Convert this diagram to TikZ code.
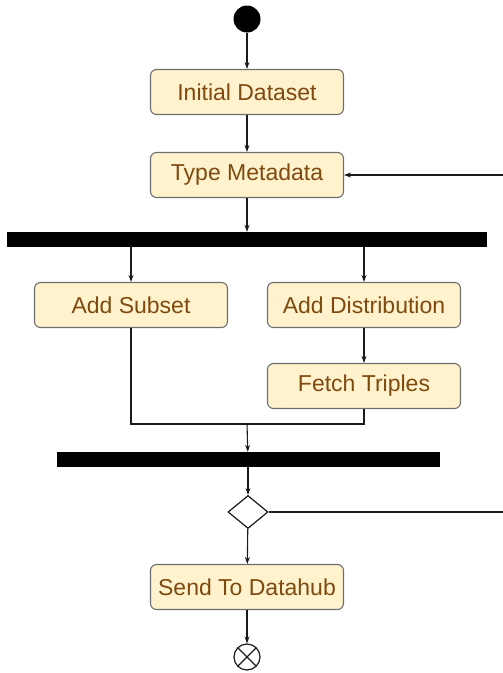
\documentclass[tikz,border=0pt]{standalone}
\usepackage{fontspec}
\setmainfont{Liberation Sans}
\usepackage{xcolor}
\definecolor{cFill}{HTML}{FFF2CC}
\definecolor{cEdge}{HTML}{6E6E6E}
\definecolor{cText}{HTML}{7F4A10}
\definecolor{cLine}{HTML}{1A1A1A}
\usetikzlibrary{arrows.meta,shapes.geometric}
\tikzset{
  node-act/.style={draw=cEdge,line width=1.1pt,fill=cFill,rounded corners=6pt,
    minimum width=193pt,minimum height=45pt,text=cText,
    font=\fontsize{23}{27}\selectfont},
  node-bar/.style={fill=black,draw=black,inner sep=0pt,minimum height=14pt},
  node-start/.style={circle,fill=black,inner sep=0pt,minimum size=27pt},
  node-stop/.style={circle,draw=cLine,line width=1.2pt,inner sep=0pt,
    minimum size=26pt,path picture={
      \draw[cLine,line width=1.2pt]
        (path picture bounding box.north west) -- (path picture bounding box.south east)
        (path picture bounding box.north east) -- (path picture bounding box.south west);}},
  node-choice/.style={diamond,draw=cLine,line width=1.2pt,fill=white,inner sep=0pt,
    minimum width=40pt,minimum height=33pt},
  arrow/.style={-{Stealth[length=7pt,width=5pt]},line width=1.1pt,draw=cLine},
  wire/.style={line width=1.1pt,draw=cLine},
}
\begin{document}
\begin{tikzpicture}[x=1pt,y=-1pt]
  \useasboundingbox (0,0) rectangle (503,673);
  \node[node-start]                      (start)   at (247,19)  {};
  \node[node-act]                        (initial) at (247,92)  {Initial Dataset};
  \node[node-act]                        (typemeta) at (247,175) {Type Metadata};
  \node[node-bar,minimum width=479pt]    (fork)    at (247,239) {};
  \node[node-act]                        (subset)  at (131,305) {Add Subset};
  \node[node-act]                        (distrib) at (364,305) {Add Distribution};
  \node[node-act]                        (fetch)   at (364,386) {Fetch Triples};
  \coordinate                            (join)    at (247,424);
  \node[node-bar,minimum width=382pt]    (merge)   at (248,459) {};
  \node[node-choice]                     (choice)  at (248,512) {};
  \node[node-act]                        (send)    at (247,587) {Send To Datahub};
  \node[node-stop]                       (stop)    at (247,657) {};
  \coordinate                            (loopout) at (515,512);
  \coordinate                            (loopin)  at (515,175);

  \draw[arrow] (start) -- (initial);
  \draw[arrow] (initial) -- (typemeta);
  \draw[arrow] (typemeta) -- (fork);
  \draw[arrow] (fork.south -| subset) -- (subset);
  \draw[arrow] (fork.south -| distrib) -- (distrib);
  \draw[arrow] (distrib) -- (fetch);
  \draw[wire] (subset.south) |- (join) -| (fetch.south);
  \draw[arrow] (join) -- (merge);
  \draw[arrow] (merge) -- (choice);
  \draw[arrow] (choice) -- (send);
  \draw[arrow] (send) -- (stop);
  % back edge, leaves the page on the right
  \draw[wire] (choice.east) -- (loopout) -- (loopin);
  \draw[arrow] (loopin) -- (typemeta.east);
\end{tikzpicture}
\end{document}
